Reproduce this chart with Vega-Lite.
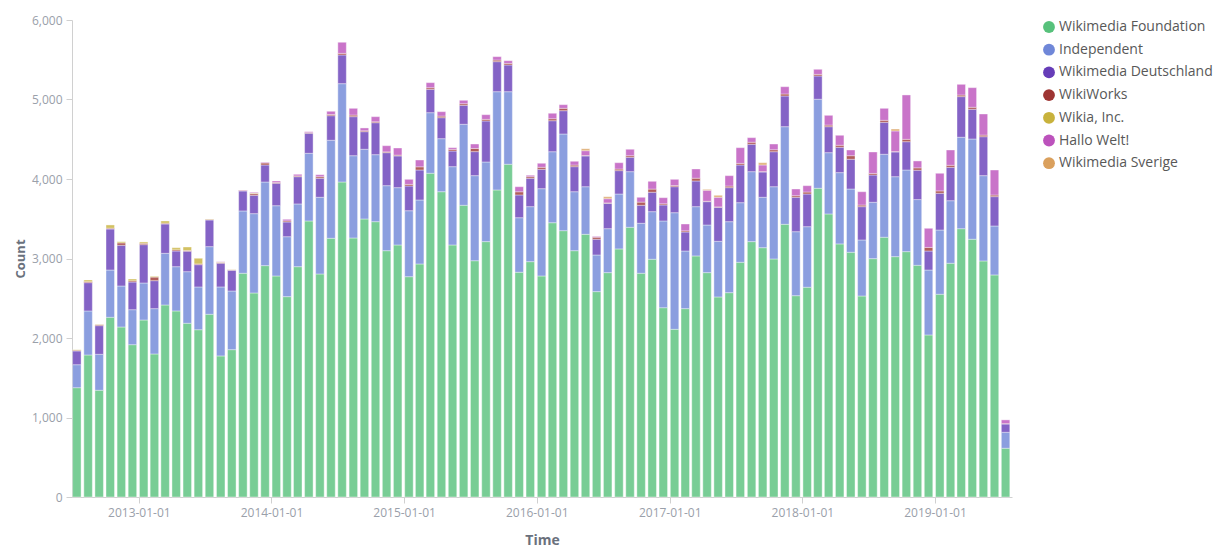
{
  "$schema": "https://vega.github.io/schema/vega-lite/v6.json",
  "width": 940,
  "height": 477,
  "autosize": "none",
  "padding": {"left": 72, "top": 20, "right": 218, "bottom": 51},
  "background": "white",
  "config": {
    "view": {"stroke": null},
    "font": "Open Sans",
    "axis": {
      "domainColor": "#d0d0d0",
      "tickColor": "#d0d0d0",
      "labelColor": "#9aa0aa",
      "labelFont": "Open Sans",
      "labelFontSize": 12,
      "titleColor": "#6a717d",
      "titleFont": "Open Sans",
      "titleFontWeight": "bold",
      "titleFontSize": 14,
      "grid": false
    }
  },
  "data": {
    "values": [
      {"month": "2012-07-01", "o1": 1375, "o2": 289, "o3": 173, "o4": 10, "o5": 6, "o6": 0, "o7": 0},
      {"month": "2012-08-01", "o1": 1786, "o2": 554, "o3": 356, "o4": 12, "o5": 22, "o6": 0, "o7": 0},
      {"month": "2012-09-01", "o1": 1342, "o2": 453, "o3": 360, "o4": 12, "o5": 5, "o6": 0, "o7": 0},
      {"month": "2012-10-01", "o1": 2260, "o2": 595, "o3": 516, "o4": 10, "o5": 41, "o6": 0, "o7": 0},
      {"month": "2012-11-01", "o1": 2138, "o2": 516, "o3": 512, "o4": 30, "o5": 15, "o6": 0, "o7": 0},
      {"month": "2012-12-01", "o1": 1916, "o2": 440, "o3": 348, "o4": 15, "o5": 23, "o6": 0, "o7": 0},
      {"month": "2013-01-01", "o1": 2226, "o2": 466, "o3": 482, "o4": 17, "o5": 17, "o6": 0, "o7": 0},
      {"month": "2013-02-01", "o1": 1799, "o2": 570, "o3": 352, "o4": 45, "o5": 10, "o6": 0, "o7": 0},
      {"month": "2013-03-01", "o1": 2415, "o2": 650, "o3": 369, "o4": 10, "o5": 28, "o6": 0, "o7": 0},
      {"month": "2013-04-01", "o1": 2340, "o2": 557, "o3": 197, "o4": 15, "o5": 27, "o6": 0, "o7": 0},
      {"month": "2013-05-01", "o1": 2185, "o2": 649, "o3": 257, "o4": 10, "o5": 44, "o6": 0, "o7": 0},
      {"month": "2013-06-01", "o1": 2104, "o2": 538, "o3": 280, "o4": 10, "o5": 71, "o6": 0, "o7": 0},
      {"month": "2013-07-01", "o1": 2298, "o2": 851, "o3": 335, "o4": 8, "o5": 5, "o6": 0, "o7": 0},
      {"month": "2013-08-01", "o1": 1774, "o2": 868, "o3": 298, "o4": 10, "o5": 5, "o6": 5, "o7": 0},
      {"month": "2013-09-01", "o1": 1853, "o2": 738, "o3": 261, "o4": 5, "o5": 3, "o6": 0, "o7": 0},
      {"month": "2013-10-01", "o1": 2814, "o2": 784, "o3": 251, "o4": 8, "o5": 0, "o6": 5, "o7": 0},
      {"month": "2013-11-01", "o1": 2566, "o2": 998, "o3": 231, "o4": 20, "o5": 8, "o6": 10, "o7": 0},
      {"month": "2013-12-01", "o1": 2910, "o2": 1052, "o3": 214, "o4": 25, "o5": 0, "o6": 9, "o7": 0},
      {"month": "2014-01-01", "o1": 2780, "o2": 884, "o3": 282, "o4": 10, "o5": 0, "o6": 19, "o7": 0},
      {"month": "2014-02-01", "o1": 2520, "o2": 754, "o3": 185, "o4": 14, "o5": 0, "o6": 20, "o7": 0},
      {"month": "2014-03-01", "o1": 2897, "o2": 789, "o3": 343, "o4": 10, "o5": 0, "o6": 20, "o7": 0},
      {"month": "2014-04-01", "o1": 3472, "o2": 851, "o3": 252, "o4": 8, "o5": 0, "o6": 12, "o7": 0},
      {"month": "2014-05-01", "o1": 2805, "o2": 965, "o3": 239, "o4": 20, "o5": 0, "o6": 25, "o7": 0},
      {"month": "2014-06-01", "o1": 3254, "o2": 1233, "o3": 309, "o4": 15, "o5": 0, "o6": 41, "o7": 0},
      {"month": "2014-07-01", "o1": 3962, "o2": 1237, "o3": 361, "o4": 20, "o5": 0, "o6": 140, "o7": 0},
      {"month": "2014-08-01", "o1": 3258, "o2": 1035, "o3": 491, "o4": 20, "o5": 0, "o6": 85, "o7": 0},
      {"month": "2014-09-01", "o1": 3497, "o2": 877, "o3": 221, "o4": 12, "o5": 0, "o6": 35, "o7": 0},
      {"month": "2014-10-01", "o1": 3463, "o2": 843, "o3": 402, "o4": 12, "o5": 0, "o6": 64, "o7": 0},
      {"month": "2014-11-01", "o1": 3098, "o2": 818, "o3": 415, "o4": 10, "o5": 0, "o6": 78, "o7": 0},
      {"month": "2014-12-01", "o1": 3170, "o2": 721, "o3": 399, "o4": 10, "o5": 0, "o6": 90, "o7": 0},
      {"month": "2015-01-01", "o1": 2771, "o2": 830, "o3": 311, "o4": 20, "o5": 0, "o6": 64, "o7": 0},
      {"month": "2015-02-01", "o1": 2931, "o2": 805, "o3": 377, "o4": 40, "o5": 0, "o6": 86, "o7": 0},
      {"month": "2015-03-01", "o1": 4072, "o2": 762, "o3": 294, "o4": 20, "o5": 0, "o6": 64, "o7": 0},
      {"month": "2015-04-01", "o1": 3840, "o2": 667, "o3": 264, "o4": 20, "o5": 0, "o6": 56, "o7": 0},
      {"month": "2015-05-01", "o1": 3170, "o2": 985, "o3": 197, "o4": 20, "o5": 0, "o6": 22, "o7": 0},
      {"month": "2015-06-01", "o1": 3669, "o2": 1019, "o3": 239, "o4": 20, "o5": 0, "o6": 43, "o7": 0},
      {"month": "2015-07-01", "o1": 2972, "o2": 1070, "o3": 302, "o4": 40, "o5": 0, "o6": 56, "o7": 0},
      {"month": "2015-08-01", "o1": 3212, "o2": 1002, "o3": 516, "o4": 20, "o5": 0, "o6": 59, "o7": 0},
      {"month": "2015-09-01", "o1": 3862, "o2": 1236, "o3": 378, "o4": 20, "o5": 0, "o6": 43, "o7": 0},
      {"month": "2015-10-01", "o1": 4185, "o2": 913, "o3": 336, "o4": 20, "o5": 0, "o6": 34, "o7": 0},
      {"month": "2015-11-01", "o1": 2827, "o2": 686, "o3": 286, "o4": 40, "o5": 0, "o6": 64, "o7": 0},
      {"month": "2015-12-01", "o1": 2960, "o2": 692, "o3": 357, "o4": 20, "o5": 0, "o6": 18, "o7": 0},
      {"month": "2016-01-01", "o1": 2780, "o2": 1098, "o3": 244, "o4": 25, "o5": 0, "o6": 51, "o7": 0},
      {"month": "2016-02-01", "o1": 3450, "o2": 893, "o3": 390, "o4": 25, "o5": 0, "o6": 69, "o7": 0},
      {"month": "2016-03-01", "o1": 3350, "o2": 1216, "o3": 293, "o4": 30, "o5": 0, "o6": 46, "o7": 0},
      {"month": "2016-04-01", "o1": 3098, "o2": 742, "o3": 315, "o4": 20, "o5": 0, "o6": 48, "o7": 0},
      {"month": "2016-05-01", "o1": 3304, "o2": 599, "o3": 387, "o4": 5, "o5": 0, "o6": 61, "o7": 25},
      {"month": "2016-06-01", "o1": 2583, "o2": 461, "o3": 198, "o4": 25, "o5": 0, "o6": 11, "o7": 0},
      {"month": "2016-07-01", "o1": 2822, "o2": 553, "o3": 319, "o4": 5, "o5": 0, "o6": 53, "o7": 25},
      {"month": "2016-08-01", "o1": 3120, "o2": 691, "o3": 294, "o4": 20, "o5": 0, "o6": 80, "o7": 0},
      {"month": "2016-09-01", "o1": 3392, "o2": 700, "o3": 181, "o4": 20, "o5": 0, "o6": 81, "o7": 0},
      {"month": "2016-10-01", "o1": 2814, "o2": 629, "o3": 226, "o4": 40, "o5": 0, "o6": 61, "o7": 0},
      {"month": "2016-11-01", "o1": 2990, "o2": 599, "o3": 244, "o4": 40, "o5": 0, "o6": 98, "o7": 0},
      {"month": "2016-12-01", "o1": 2381, "o2": 1091, "o3": 201, "o4": 15, "o5": 0, "o6": 77, "o7": 0},
      {"month": "2017-01-01", "o1": 2109, "o2": 1467, "o3": 327, "o4": 15, "o5": 0, "o6": 78, "o7": 0},
      {"month": "2017-02-01", "o1": 2369, "o2": 725, "o3": 239, "o4": 15, "o5": 0, "o6": 86, "o7": 0},
      {"month": "2017-03-01", "o1": 3032, "o2": 620, "o3": 323, "o4": 35, "o5": 0, "o6": 116, "o7": 0},
      {"month": "2017-04-01", "o1": 2822, "o2": 599, "o3": 294, "o4": 5, "o5": 0, "o6": 138, "o7": 12},
      {"month": "2017-05-01", "o1": 2516, "o2": 700, "o3": 428, "o4": 5, "o5": 0, "o6": 121, "o7": 25},
      {"month": "2017-06-01", "o1": 2570, "o2": 893, "o3": 428, "o4": 20, "o5": 0, "o6": 131, "o7": 0},
      {"month": "2017-07-01", "o1": 2952, "o2": 750, "o3": 474, "o4": 20, "o5": 0, "o6": 198, "o7": 0},
      {"month": "2017-08-01", "o1": 3212, "o2": 880, "o3": 345, "o4": 25, "o5": 0, "o6": 58, "o7": 0},
      {"month": "2017-09-01", "o1": 3136, "o2": 634, "o3": 318, "o4": 5, "o5": 0, "o6": 83, "o7": 29},
      {"month": "2017-10-01", "o1": 2994, "o2": 909, "o3": 440, "o4": 25, "o5": 0, "o6": 72, "o7": 0},
      {"month": "2017-11-01", "o1": 3430, "o2": 1228, "o3": 386, "o4": 25, "o5": 0, "o6": 92, "o7": 0},
      {"month": "2017-12-01", "o1": 2532, "o2": 805, "o3": 433, "o4": 20, "o5": 0, "o6": 84, "o7": 0},
      {"month": "2018-01-01", "o1": 2638, "o2": 762, "o3": 411, "o4": 25, "o5": 0, "o6": 80, "o7": 0},
      {"month": "2018-02-01", "o1": 3883, "o2": 1120, "o3": 293, "o4": 20, "o5": 0, "o6": 64, "o7": 0},
      {"month": "2018-03-01", "o1": 3560, "o2": 771, "o3": 327, "o4": 20, "o5": 0, "o6": 123, "o7": 0},
      {"month": "2018-04-01", "o1": 3183, "o2": 897, "o3": 319, "o4": 25, "o5": 0, "o6": 126, "o7": 0},
      {"month": "2018-05-01", "o1": 3078, "o2": 796, "o3": 374, "o4": 45, "o5": 0, "o6": 72, "o7": 0},
      {"month": "2018-06-01", "o1": 2528, "o2": 705, "o3": 419, "o4": 20, "o5": 0, "o6": 168, "o7": 0},
      {"month": "2018-07-01", "o1": 2998, "o2": 709, "o3": 343, "o4": 20, "o5": 0, "o6": 270, "o7": 0},
      {"month": "2018-08-01", "o1": 3267, "o2": 1044, "o3": 402, "o4": 25, "o5": 0, "o6": 151, "o7": 0},
      {"month": "2018-09-01", "o1": 3023, "o2": 1006, "o3": 311, "o4": 5, "o5": 0, "o6": 259, "o7": 25},
      {"month": "2018-10-01", "o1": 3086, "o2": 1027, "o3": 356, "o4": 30, "o5": 0, "o6": 558, "o7": 0},
      {"month": "2018-11-01", "o1": 2914, "o2": 827, "o3": 369, "o4": 30, "o5": 0, "o6": 87, "o7": 0},
      {"month": "2018-12-01", "o1": 2038, "o2": 817, "o3": 239, "o4": 45, "o5": 0, "o6": 241, "o7": 0},
      {"month": "2019-01-01", "o1": 2550, "o2": 808, "o3": 462, "o4": 30, "o5": 0, "o6": 222, "o7": 0},
      {"month": "2019-02-01", "o1": 2940, "o2": 787, "o3": 420, "o4": 25, "o5": 0, "o6": 193, "o7": 0},
      {"month": "2019-03-01", "o1": 3375, "o2": 1150, "o3": 511, "o4": 20, "o5": 0, "o6": 135, "o7": 0},
      {"month": "2019-04-01", "o1": 3242, "o2": 1261, "o3": 374, "o4": 25, "o5": 0, "o6": 247, "o7": 0},
      {"month": "2019-05-01", "o1": 2969, "o2": 1073, "o3": 490, "o4": 20, "o5": 0, "o6": 266, "o7": 0},
      {"month": "2019-06-01", "o1": 2793, "o2": 616, "o3": 369, "o4": 20, "o5": 0, "o6": 315, "o7": 0},
      {"month": "2019-07-01", "o1": 613, "o2": 201, "o3": 104, "o4": 5, "o5": 0, "o6": 47, "o7": 0}
    ]
  },
  "transform": [
    {"fold": ["o1", "o2", "o3", "o4", "o5", "o6", "o7"], "as": ["org", "count"]},
    {"filter": "datum.count > 0"}
  ],
  "mark": {
    "type": "bar",
    "width": 8.5,
    "xOffset": -0.8,
    "opacity": 0.8,
    "stroke": "#ffffff",
    "strokeWidth": 0.4
  },
  "encoding": {
    "x": {
      "field": "month",
      "timeUnit": "utcyearmonth",
      "type": "temporal",
      "scale": {
        "domain": [
          {"year": 2012, "month": 7, "date": 1, "utc": true},
          {"year": 2019, "month": 8, "date": 1, "utc": true}
        ]
      },
      "axis": {
        "title": "Time",
        "labelExpr": "utcFormat(datum.value, '%Y-%m-%d')",
        "values": [
          {"year": 2013, "month": 1, "date": 1, "utc": true},
          {"year": 2014, "month": 1, "date": 1, "utc": true},
          {"year": 2015, "month": 1, "date": 1, "utc": true},
          {"year": 2016, "month": 1, "date": 1, "utc": true},
          {"year": 2017, "month": 1, "date": 1, "utc": true},
          {"year": 2018, "month": 1, "date": 1, "utc": true},
          {"year": 2019, "month": 1, "date": 1, "utc": true}
        ],
        "tickSize": 6,
        "labelPadding": 4,
        "titlePadding": 15,
        "labelFlush": false,
        "labelOverlap": false
      }
    },
    "y": {
      "field": "count",
      "type": "quantitative",
      "stack": "zero",
      "scale": {"domain": [0, 6000], "nice": false},
      "axis": {
        "title": "Count",
        "format": ",.0f",
        "values": [0, 1000, 2000, 3000, 4000, 5000, 6000],
        "tickSize": 6,
        "labelPadding": 4,
        "titlePadding": 4,
        "titleFontSize": 13
      }
    },
    "color": {
      "field": "org",
      "type": "nominal",
      "scale": {
        "domain": ["o1", "o2", "o3", "o4", "o5", "o6", "o7"],
        "range": ["#57c17b", "#6f87d8", "#663db8", "#9e3533", "#c8b23c", "#bc52bc", "#daa05d"]
      },
      "legend": {
        "title": null,
        "orient": "none",
        "legendX": 970,
        "legendY": 0,
        "symbolType": "circle",
        "symbolSize": 140,
        "symbolOpacity": 1,
        "symbolStrokeWidth": 0,
        "labelFont": "Open Sans",
        "labelFontSize": 14,
        "labelColor": "#585858",
        "labelOffset": 3,
        "rowPadding": 8.7,
        "labelLimit": 300,
        "labelExpr": "datum.label == 'o1' ? 'Wikimedia Foundation' : datum.label == 'o2' ? 'Independent' : datum.label == 'o3' ? 'Wikimedia Deutschland' : datum.label == 'o4' ? 'WikiWorks' : datum.label == 'o5' ? 'Wikia, Inc.' : datum.label == 'o6' ? 'Hallo Welt!' : 'Wikimedia Sverige'"
      }
    },
    "order": {"field": "org", "sort": "ascending"}
  }
}
